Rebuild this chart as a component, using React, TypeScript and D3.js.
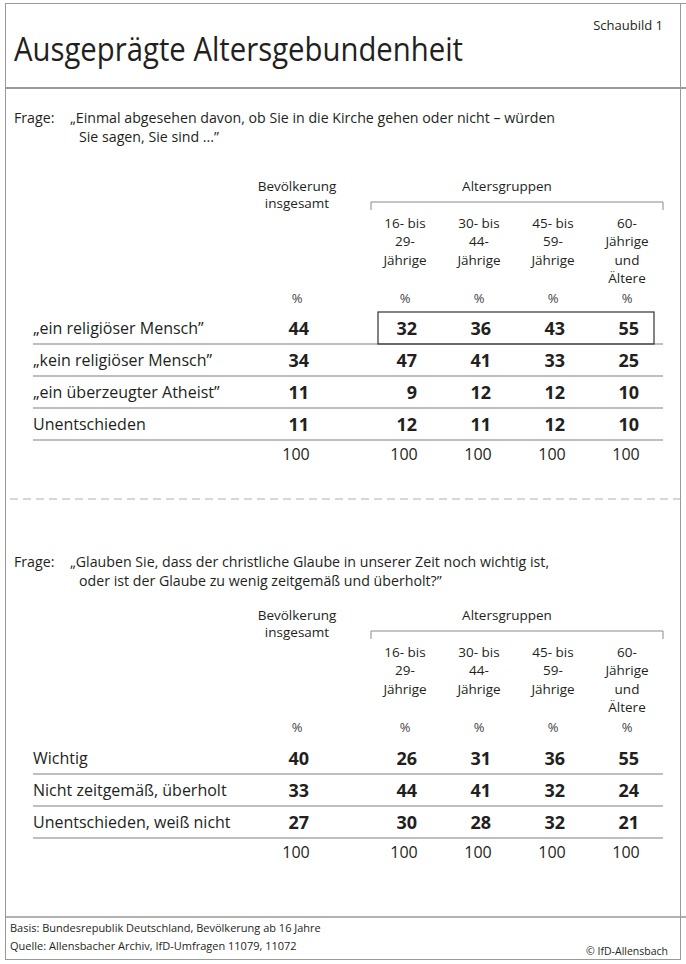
import React from 'react';
import * as d3 from 'd3';

const title = 'Ausgeprägte Altersgebundenheit';
const chartNo = 'Schaubild 1';
const totalHeader = ['Bevölkerung', 'insgesamt'];
const groupHeader = 'Altersgruppen';
const ageGroupKeys = ['16-29', '30-44', '45-59', '60+'];
const ageGroupLabels = [
  ['16- bis', '29-', 'Jährige'],
  ['30- bis', '44-', 'Jährige'],
  ['45- bis', '59-', 'Jährige'],
  ['60-', 'Jährige', 'und', 'Ältere'],
];

const q1Lines = [
  '„Einmal abgesehen davon, ob Sie in die Kirche gehen oder nicht – würden',
  'Sie sagen, Sie sind ...”',
];
const q1Labels = ['„ein religiöser Mensch”', '„kein religiöser Mensch”', '„ein überzeugter Atheist”', 'Unentschieden'];
const q1Total = [44, 34, 11, 11];
const q1Age16 = [32, 47, 9, 12];
const q1Age30 = [36, 41, 12, 11];
const q1Age45 = [43, 33, 12, 12];
const q1Age60 = [55, 25, 10, 10];

const q2Lines = [
  '„Glauben Sie, dass der christliche Glaube in unserer Zeit noch wichtig ist,',
  'oder ist der Glaube zu wenig zeitgemäß und überholt?”',
];
const q2Labels = ['Wichtig', 'Nicht zeitgemäß, überholt', 'Unentschieden, weiß nicht'];
const q2Total = [40, 33, 27];
const q2Age16 = [26, 44, 30];
const q2Age30 = [31, 41, 28];
const q2Age45 = [36, 32, 32];
const q2Age60 = [55, 24, 21];

const footBasis = 'Basis: Bundesrepublik Deutschland, Bevölkerung ab 16 Jahre';
const footSource = 'Quelle: Allensbacher Archiv, IfD-Umfragen 11079, 11072';
const copyright = '© IfD-Allensbach';

const FONT = '"Open Sans", "Noto Sans", sans-serif';
const INK = '#231f20';
const GRID = '#a9a9a9';

const totalX = 297;
const ageX = d3.scalePoint<string>().domain(ageGroupKeys).range([405, 627]);

type SectionProps = {
  lines: string[];
  labels: string[];
  total: number[];
  ages: number[][];
  qY: number;
  headY: number;
  bandTop: number;
  highlightFirst?: boolean;
};

function Section({ lines, labels, total, ages, qY, headY, bandTop, highlightFirst }: SectionProps) {
  const y = d3.scaleBand<string>().domain(labels).range([bandTop, bandTop + 32 * labels.length]).padding(0);
  const bw = y.bandwidth();
  const bracketY = headY + 11;
  const ageY0 = headY + 37;
  const pctY = headY + 112;
  const cols = [total, ...ages];
  const colCenters = [totalX, ...ageGroupKeys.map((k) => ageX(k) as number)];
  const sums = cols.map((c) => d3.sum(c));
  const totalRowY = bandTop + bw * labels.length + 20;
  return (
    <g>
      <text x={14} y={qY} fontSize={14.2} fill={INK}>Frage:</text>
      <text x={70} y={qY} fontSize={14.2} fill={INK}>{lines[0]}</text>
      <text x={79} y={qY + 19} fontSize={14.2} fill={INK}>{lines[1]}</text>

      {totalHeader.map((t, i) => (
        <text key={t} x={totalX} y={headY + i * 17} fontSize={13.5} textAnchor="middle" fill={INK}>{t}</text>
      ))}
      <text x={507} y={headY} fontSize={13.5} textAnchor="middle" fill={INK}>{groupHeader}</text>
      <path d={`M371,${bracketY + 8}V${bracketY}H663V${bracketY + 8}`} fill="none" stroke="#8a8a8a" strokeWidth={1} />
      {ageGroupKeys.map((k, gi) =>
        ageGroupLabels[gi].map((t, li) => (
          <text key={k + li} x={ageX(k)} y={ageY0 + li * 18.3} fontSize={13.5} textAnchor="middle" fill={INK}>{t}</text>
        ))
      )}
      {colCenters.map((cx, i) => (
        <text key={'p' + i} x={cx} y={pctY} fontSize={13} textAnchor="middle" fill="#444">%</text>
      ))}

      {labels.map((lab, ri) => (
        <g key={lab}>
          <text x={33} y={(y(lab) as number) + bw / 2 + 6} fontSize={16} fill={INK}>{lab}</text>
          <line x1={33} x2={663} y1={(y(lab) as number) + bw} y2={(y(lab) as number) + bw} stroke={GRID} strokeWidth={1.3} />
          {cols.map((c, ci) => (
            <text key={ci} x={colCenters[ci] + 12} y={(y(lab) as number) + bw / 2 + 6.5} fontSize={18} fontWeight={700} textAnchor="end" fill={INK}>{c[ri]}</text>
          ))}
        </g>
      ))}
      {highlightFirst && (
        <rect x={378} y={(y(labels[0]) as number)} width={276} height={bw} fill="none" stroke="#333" strokeWidth={1.2} />
      )}
      {sums.map((s, ci) => (
        <text key={'s' + ci} x={colCenters[ci] - 1} y={totalRowY} fontSize={16} textAnchor="middle" fill={INK}>{s}</text>
      ))}
    </g>
  );
}

export default function App() {
  return (
    <svg width={686} height={964} style={{ position: 'absolute', left: 0, top: 0, background: '#fff' }} fontFamily={FONT}>
      <rect x={0} y={0} width={686} height={964} fill="#fff" />
      <line x1={5} x2={686} y1={3.5} y2={3.5} stroke="#999" strokeWidth={1} />
      <line x1={5.5} x2={5.5} y1={3} y2={960} stroke="#999" strokeWidth={1} />
      <line x1={680.5} x2={680.5} y1={3} y2={960} stroke="#999" strokeWidth={1} />
      <line x1={5} x2={681} y1={959.5} y2={959.5} stroke="#999" strokeWidth={1} />

      <text x={663} y={30} fontSize={13} textAnchor="end" fill={INK}>{chartNo}</text>
      <text x={14} y={61} fontSize={33} fill={INK} textLength={449} lengthAdjust="spacingAndGlyphs">{title}</text>
      <line x1={5} x2={686} y1={88} y2={88} stroke="#9a9a9a" strokeWidth={2} />

      <Section lines={q1Lines} labels={q1Labels} total={q1Total} ages={[q1Age16, q1Age30, q1Age45, q1Age60]}
        qY={123} headY={191} bandTop={312} highlightFirst />

      <line x1={10} x2={686} y1={499} y2={499} stroke="#b0b0b0" strokeWidth={1.2} strokeDasharray="8 5" />

      <Section lines={q2Lines} labels={q2Labels} total={q2Total} ages={[q2Age16, q2Age30, q2Age45, q2Age60]}
        qY={567} headY={620} bandTop={742} />

      <line x1={5} x2={686} y1={917} y2={917} stroke="#999" strokeWidth={1.3} />
      <text x={10} y={932} fontSize={11} fill={INK}>{footBasis}</text>
      <text x={10} y={950} fontSize={11} fill={INK}>{footSource}</text>
      <text x={668} y={955} fontSize={10.5} textAnchor="end" fill={INK}>{copyright}</text>
    </svg>
  );
}
